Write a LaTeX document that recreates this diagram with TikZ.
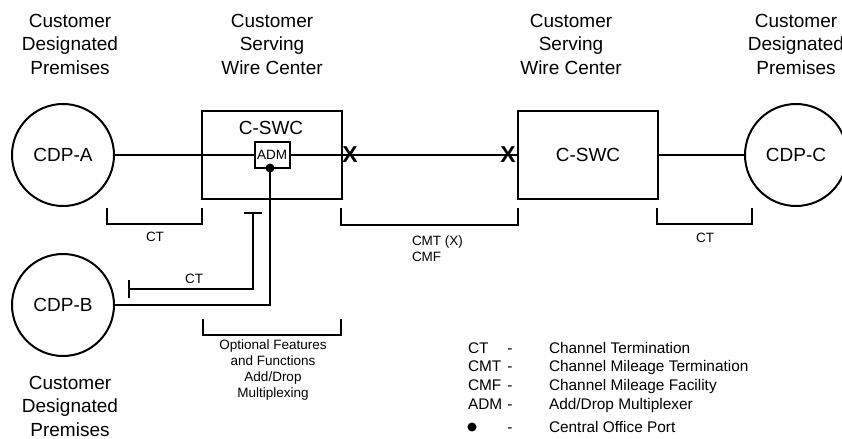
\documentclass[tikz,border=0pt]{standalone}
\usepackage{fontspec}
\setmainfont{Liberation Sans}
\usetikzlibrary{arrows.meta}
\newcommand{\bigtxt}{\fontsize{9.5}{11.75}\selectfont}
\newcommand{\legtxt}{\fontsize{7.7}{9.5}\selectfont}
\newcommand{\smtxt}{\fontsize{6.75}{8}\selectfont}
\begin{document}
\begin{tikzpicture}[x=0.5pt, y=-0.5pt, line width=1pt]
        \clip (0,0) rectangle (842,439);
        \fill[white] (0,0) rectangle (842,439);
        \tikzstyle{cdp}=[circle, draw, minimum size=51pt, inner sep=0pt, font=\bigtxt]
        \tikzstyle{swc}=[rectangle, draw, minimum width=70pt, minimum height=44pt, font=\bigtxt]
        \tikzstyle{hd}=[align=center, font=\bigtxt]
        \tikzstyle{sm}=[font=\smtxt, inner sep=0pt]
        \tikzstyle{lg}=[font=\legtxt, inner sep=0pt]
        \tikzstyle{xm}=[font=\bfseries\fontsize{11.5}{12}\selectfont, inner sep=0pt]
        \tikzstyle{port}=[circle, fill, inner sep=0pt, minimum size=4.5pt]
        \tikzstyle{sig}=[line width=0.8pt]

        % headings
        \node[hd] (H1) at (70,44) {Customer\\Designated\\Premises};
        \node[hd] (H2) at (272,44) {Customer\\Serving\\Wire Center};
        \node[hd] (H3) at (571,44) {Customer\\Serving\\Wire Center};
        \node[hd] (H4) at (796,44) {Customer\\Designated\\Premises};
        \node[hd] (H5) at (70,406) {Customer\\Designated\\Premises};

        \node[cdp] (A) at (63,155) {CDP-A};
        \node[cdp] (B) at (63,305) {CDP-B};
        \node[cdp] (C) at (796,155) {CDP-C};
        \node[swc] (S1) at (272,155) {};
        \node[swc] (S2) at (588,155) {C-SWC};
        \node[font=\bigtxt] (S1L) at (271,128) {C-SWC};
        \node[draw, minimum width=17.5pt, minimum height=13pt, inner sep=0pt, font=\smtxt] (ADM) at (272,155) {ADM};
        \node[port] (P) at (270,168) {};
        \node[xm] (X1) at (350,155) {X};
        \node[xm] (X2) at (508,155) {X};

        \draw[sig] (A)--(ADM);
        \draw[sig] (ADM)--(S2);
        \draw[sig] (S2)--(C);
        \draw (P.center) |- (B);

        % CT from CDP-B
        \coordinate (T1) at (128,289);
        \coordinate (T2) at (253,212);
        \draw[{Bar[width=9pt]}-{Bar[width=9pt]}] (T1) -| (T2);
        \node[sm] (CT2) at (194,279) {CT};

        % brackets
        \draw (107,208) |- (202,224) -- (202,208);
        \node[sm] (CT1) at (155,237) {CT};
        \draw (341,208) |- (518,225) -- (518,208);
        \node[sm, align=left, anchor=west] (CMT) at (411,248.5) {CMT (X)\\CMF};
        \draw (657,208) |- (752,224) -- (752,208);
        \node[sm] (CT3) at (705,238) {CT};
        \draw (203,319) |- (341,335) -- (341,319);
        \node[sm, align=center] (OPT) at (273,370) {Optional Features\\and Functions\\Add/Drop\\Multiplexing};

        % legend
        \node[lg, anchor=base west] (L1) at (467,353.5) {CT};
        \node[lg, anchor=base] (D1) at (510,353.5) {-};
        \node[lg, anchor=base west] (E1) at (548,353.5) {Channel Termination};
        \node[lg, anchor=base west] (L2) at (467,371.5) {CMT};
        \node[lg, anchor=base] (D2) at (510,371.5) {-};
        \node[lg, anchor=base west] (E2) at (548,371.5) {Channel Mileage Termination};
        \node[lg, anchor=base west] (L3) at (467,390.5) {CMF};
        \node[lg, anchor=base] (D3) at (510,390.5) {-};
        \node[lg, anchor=base west] (E3) at (548,390.5) {Channel Mileage Facility};
        \node[lg, anchor=base west] (L4) at (467,409.5) {ADM};
        \node[lg, anchor=base] (D4) at (510,409.5) {-};
        \node[lg, anchor=base west] (E4) at (548,409.5) {Add/Drop Multiplexer};
        \node[port] (L5) at (472,427) {};
        \node[lg, anchor=base] (D5) at (510,432.5) {-};
        \node[lg, anchor=base west] (E5) at (548,432.5) {Central Office Port};
\end{tikzpicture}
\end{document}
